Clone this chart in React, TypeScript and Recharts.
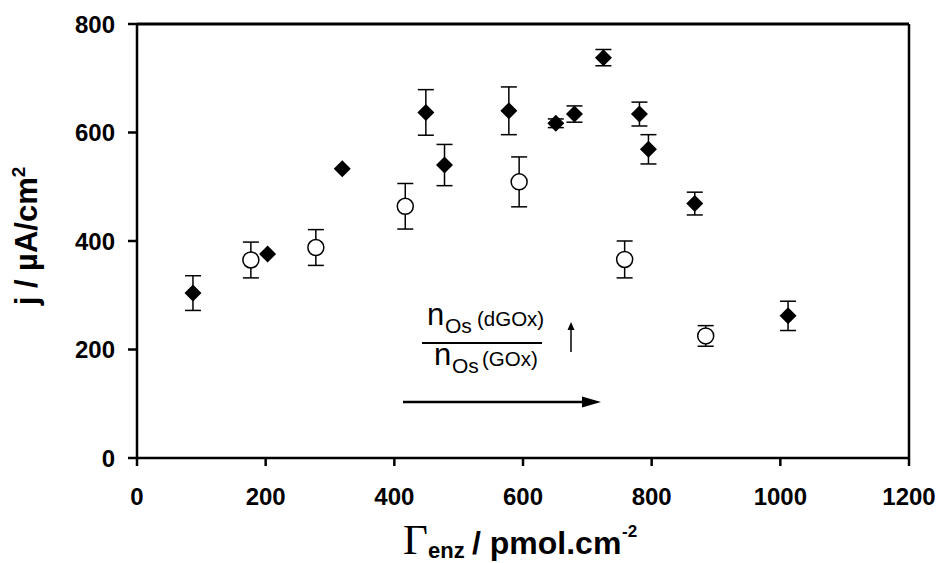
import React from 'react'
import { ScatterChart, Scatter, XAxis, YAxis, ErrorBar, ReferenceLine } from 'recharts'

// filled diamonds
const gGOx = [87, 203, 319, 449, 478, 578, 651, 680, 725, 781, 795, 867, 1012]
const jGOx = [304, 376, 533, 637, 540, 640, 617, 634, 738, 634, 569, 469, 262]
const eGOx = [32, 0, 0, 42, 38, 44, 8, 15, 15, 22, 27, 21, 27]

// open circles
const gD = [177, 278, 417, 594, 758, 884]
const jD = [365, 388, 464, 509, 366, 225]
const eD = [33, 33, 42, 46, 34, 19]

const xTicks = [0, 200, 400, 600, 800, 1000, 1200]
const yTicks = [0, 200, 400, 600, 800]

const W = 940
const H = 563
const font = '"Liberation Sans", Arial, sans-serif'

const diamond = (props: any) => {
  const { cx, cy } = props
  const r = 8.5
  return <polygon points={`${cx},${cy - r} ${cx + r},${cy} ${cx},${cy + r} ${cx - r},${cy}`} fill="#000" />
}

const circle = (props: any) => {
  const { cx, cy } = props
  return <circle cx={cx} cy={cy} r={8} fill="#fff" stroke="#000" strokeWidth={1.5} />
}

function App() {
  const filled = gGOx.map((x, i) => ({ x, y: jGOx[i], err: eGOx[i] }))
  const open = gD.map((x, i) => ({ x, y: jD[i], err: eD[i] }))

  const tick = { fill: '#000', fontSize: 24, fontWeight: 'bold', fontFamily: font }
  const axLine = { stroke: '#000', strokeWidth: 2.5 }

  return (
    <div style={{ position: 'absolute', left: 0, top: 0, width: W, height: H, background: '#fff' }}>
      <ScatterChart width={W} height={H} margin={{ top: 24, right: 31, bottom: 0, left: 0 }}>
        <XAxis
          type="number" dataKey="x" domain={[0, 1200]} ticks={xTicks}
          height={105} tick={tick} tickSize={8} tickMargin={22}
          axisLine={axLine} tickLine={axLine} allowDataOverflow
        />
        <YAxis
          type="number" dataKey="y" domain={[0, 800]} ticks={yTicks}
          width={137} tick={tick} tickSize={9} tickMargin={13}
          axisLine={axLine} tickLine={axLine} allowDataOverflow
        />
        <ReferenceLine y={800} stroke="#000" strokeWidth={3} />
        <ReferenceLine x={1200} stroke="#000" strokeWidth={2.5} />
        <Scatter data={filled} shape={diamond} isAnimationActive={false}>
          <ErrorBar dataKey="err" direction="y" width={8} stroke="#000" strokeWidth={1.5} />
        </Scatter>
        <Scatter data={open} shape={circle} isAnimationActive={false}>
          <ErrorBar dataKey="err" direction="y" width={8} stroke="#000" strokeWidth={1.5} />
        </Scatter>
      </ScatterChart>

      <svg width={W} height={H} style={{ position: 'absolute', left: 0, top: 0, pointerEvents: 'none' }}>
        {/* y axis title */}
        <text x={37} y={236} transform="rotate(-90, 37, 236)" textAnchor="middle"
          fontFamily={font} fontWeight="bold" fontSize={31} fill="#000">
          j / µA/cm<tspan dy={-12} fontSize={19}>2</tspan>
        </text>

        {/* x axis title */}
        <text x={403} y={554} fontFamily='"Liberation Serif", "Times New Roman", serif' fontSize={43} fill="#000">Γ</text>
        <text x={428} y={558} fontFamily={font} fontWeight="bold" fontSize={22} fill="#000">enz</text>
        <text x={472} y={554} fontFamily={font} fontWeight="bold" fontSize={32} fill="#000">/ pmol.cm</text>
        <text x={622} y={537} fontFamily={font} fontWeight="bold" fontSize={17} fill="#000">-2</text>

        {/* ratio annotation */}
        <g fontFamily={font} fill="#000">
          <text x={427} y={325} fontSize={31}>n</text>
          <text x={445} y={333} fontSize={21}>Os</text>
          <text x={477} y={326} fontSize={20.5}>(dGOx)</text>
          <line x1={422} y1={343} x2={542} y2={343} stroke="#000" strokeWidth={2} />
          <text x={434} y={365} fontSize={31}>n</text>
          <text x={452} y={373} fontSize={21}>Os</text>
          <text x={482} y={366} fontSize={20.5}>(GOx)</text>
        </g>
        <line x1={571} y1={352} x2={571} y2={328} stroke="#000" strokeWidth={1.5} />
        <polygon points="571,322 567.5,330 574.5,330" fill="#000" />
        <line x1={403} y1={402} x2={584} y2={402} stroke="#000" strokeWidth={2.5} />
        <polygon points="601,402 582,396.5 582,407.5" fill="#000" />
      </svg>
    </div>
  )
}

export default App
